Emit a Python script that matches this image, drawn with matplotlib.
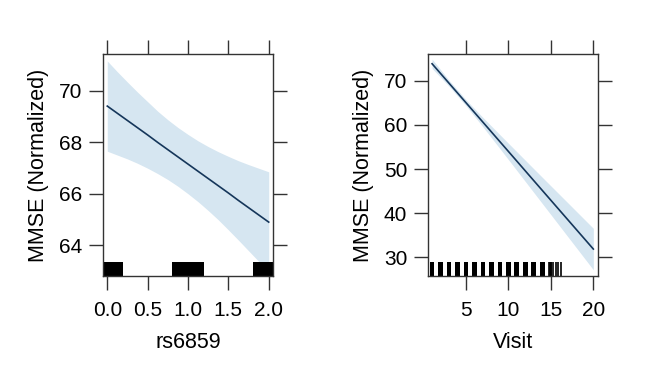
import matplotlib
matplotlib.use("Agg")
import matplotlib.pyplot as plt

plt.rcParams['font.family'] = ['Liberation Sans', 'DejaVu Sans']

# ---- Panel 1: rs6859 effect ----
snp_x = [0.0, 0.125, 0.25, 0.375, 0.5, 0.625, 0.75, 0.875, 1.0,
         1.125, 1.25, 1.375, 1.5, 1.625, 1.75, 1.875, 2.0]
snp_fit = [69.40, 69.12, 68.84, 68.56, 68.28, 67.99, 67.71, 67.43, 67.15,
           66.87, 66.59, 66.31, 66.03, 65.74, 65.46, 65.18, 64.90]
snp_upper = [71.15, 70.73, 70.33, 69.94, 69.57, 69.20, 68.87, 68.57, 68.30,
             68.05, 67.83, 67.63, 67.45, 67.28, 67.13, 66.99, 66.85]
snp_lower = [67.65, 67.50, 67.35, 67.18, 66.99, 66.78, 66.55, 66.29, 66.00,
             65.69, 65.35, 64.99, 64.60, 64.20, 63.79, 63.38, 62.95]
snp_rug = [0, 1, 2]
snp_xticks = [0.0, 0.5, 1.0, 1.5, 2.0]
snp_xticklabels = ["0.0", "0.5", "1.0", "1.5", "2.0"]
snp_yticks = [64, 66, 68, 70]

# ---- Panel 2: Visit effect ----
visit_x = [1, 3, 5, 7, 9, 11, 13, 15, 17, 19, 20]
visit_fit = [73.86, 69.44, 65.02, 60.60, 56.18, 51.76, 47.33, 42.91, 38.49, 34.07, 31.86]
visit_upper = [74.92, 70.11, 65.69, 61.66, 57.76, 53.89, 50.02, 46.17, 42.33, 38.48, 36.56]
visit_lower = [72.80, 68.77, 64.35, 59.54, 54.60, 49.63, 44.64, 39.65, 34.65, 29.66, 27.16]
visit_rug_blocks = [1, 2, 3, 4, 5, 6, 7, 8, 9, 10, 11, 12, 13, 14]
visit_rug_lines = [14.78, 14.88, 14.97, 15.05, 15.25, 15.57, 15.84, 16.15]
visit_xticks = [5, 10, 15, 20]
visit_yticks = [30, 40, 50, 60, 70]

LINE = "#15365a"
BAND = "#d6e6f1"
FRAME = "#333333"
RUG_H = 0.063

W, H = 650, 381
fig = plt.figure(figsize=(W / 100, H / 100), dpi=100)
fig.patch.set_facecolor("white")

ax1 = fig.add_axes([103 / W, 1 - 276 / H, 170 / W, 222 / H])
ax2 = fig.add_axes([428 / W, 1 - 276 / H, 170 / W, 222 / H])


def style(ax, xticks, xticklabels, yticks, xlabel):
    for s in ax.spines.values():
        s.set_color(FRAME)
        s.set_linewidth(1.0)
    ax.set_xticks(xticks)
    ax.set_xticklabels(xticklabels)
    ax.set_yticks(yticks)
    ax.tick_params(axis='both', which='major', direction='out', length=10,
                   width=1.0, color=FRAME, labelsize=15, pad=5,
                   top=True, right=True, labeltop=False, labelright=False)
    ax.tick_params(axis='x', pad=8)
    ax.set_xlabel(xlabel, fontsize=15.5, labelpad=9)
    ax.set_ylabel("MMSE (Normalized)", fontsize=15.5, labelpad=7)


# Panel 1
ax1.fill_between(snp_x, snp_lower, snp_upper, color=BAND, linewidth=0, zorder=1)
for g in snp_rug:
    ax1.axvspan(g - 0.2, g + 0.2, ymin=0, ymax=RUG_H, color="black", lw=0, zorder=2)
ax1.plot(snp_x, snp_fit, color=LINE, lw=1.2, zorder=3)
ax1.set_xlim(-0.053, 2.053)
ax1.set_ylim(62.81, 71.42)
style(ax1, snp_xticks, snp_xticklabels, snp_yticks, "rs6859")

# Panel 2
ax2.fill_between(visit_x, visit_lower, visit_upper, color=BAND, linewidth=0, zorder=1)
for v in visit_rug_blocks:
    ax2.axvspan(v - 0.29, v + 0.25, ymin=0, ymax=RUG_H, color="black", lw=0, zorder=2)
ax2.vlines(visit_rug_lines, 0, RUG_H, transform=ax2.get_xaxis_transform(),
           color="black", lw=1.2, zorder=2)
ax2.plot(visit_x, visit_fit, color=LINE, lw=1.2, zorder=3)
ax2.set_xlim(0.52, 20.55)
ax2.set_ylim(25.75, 76.07)
style(ax2, visit_xticks, [str(t) for t in visit_xticks], visit_yticks, "Visit")

fig.savefig("out.png", dpi=100)
